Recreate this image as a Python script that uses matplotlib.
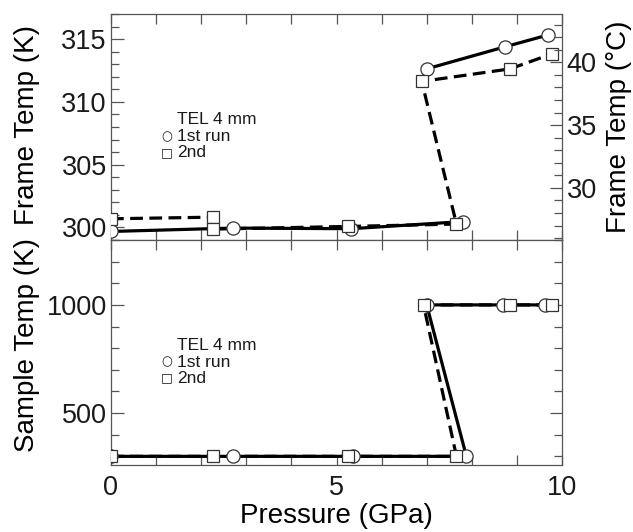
import numpy as np
import matplotlib
matplotlib.use("Agg")
import matplotlib.pyplot as plt
from matplotlib.ticker import MultipleLocator

# frame temperature (K) vs pressure (GPa); nan = gap in the 1st run line
p_frame1 = [0, 2.70, 5.33, 7.81, np.nan, 7.00, 8.74, 9.68]
t_frame1 = [299.68, 299.95, 299.90, 300.47, np.nan, 312.63, 314.39, 315.32]
p_frame2 = [0, 2.27, 2.27, 5.26, 7.66, 6.89, 8.85, 9.77]
t_frame2 = [300.69, 300.82, 299.87, 300.08, 300.27, 311.63, 312.63, 313.82]

# sample temperature (K)
p_sample1 = [0, 2.70, 5.37, 7.88, 7.00, 8.69, 9.62]
t_sample1 = [300, 300, 300, 300, 1000, 1000, 1000]
p_sample2 = [0, 2.27, 5.26, 7.66, 6.93, 8.85, 9.77]
t_sample2 = [300, 300, 300, 300, 1000, 1000, 1000]

legend_title = "TEL 4 mm"
legend_labels = ["1st run", "2nd"]

plt.rcParams['font.family'] = ['Liberation Sans', 'DejaVu Sans']
plt.rcParams['text.color'] = '#1a1a1a'

SPINE = '#555555'
LW = 2.3
TICK_FS = 19.5
LABEL_FS = 20

fig = plt.figure(figsize=(6.33, 5.32), dpi=100)
W, H = 633, 532
x0, x1 = 111, 562
ax_top = fig.add_axes([x0 / W, 1 - 240 / H, (x1 - x0) / W, 226 / H])
ax_bot = fig.add_axes([x0 / W, 1 - 465 / H, (x1 - x0) / W, 225 / H])


def style(ax):
    for s in ax.spines.values():
        s.set_color(SPINE)
        s.set_linewidth(0.9)
    ax.tick_params(which='both', direction='in', top=True, right=True,
                   color=SPINE, width=0.9, labelsize=TICK_FS,
                   labelcolor='#1a1a1a')
    ax.tick_params(which='major', length=9)
    ax.tick_params(which='minor', length=6)
    ax.tick_params(axis='x', which='both', length=7.5, pad=7)
    ax.tick_params(axis='y', pad=3)
    ax.set_xlim(0, 10)
    ax.xaxis.set_major_locator(MultipleLocator(5))
    ax.xaxis.set_minor_locator(MultipleLocator(1))


def draw(ax, pa, ta, pb, tb):
    ax.plot(pa, ta, '-', color='black', lw=LW, zorder=2)
    ax.plot(pb, tb, '--', color='black', lw=LW, dashes=(4, 2), zorder=2)
    ax.plot(pa, ta, 'o', ms=9.5, mfc='white', mec='#333333', mew=0.9,
            zorder=3)
    ax.plot(pb, tb, 's', ms=9, mfc='white', mec='#333333', mew=0.9,
            zorder=4)
    ax.text(0.146, 0.533, legend_title, transform=ax.transAxes,
            fontsize=12.5, va='center', ha='left')
    ax.text(0.1235, 0.457, "○", transform=ax.transAxes, fontsize=9,
            va='center', ha='center', family='DejaVu Sans')
    ax.text(0.146, 0.457, legend_labels[0], transform=ax.transAxes,
            fontsize=12.5, va='center', ha='left')
    ax.text(0.1235, 0.386, "□", transform=ax.transAxes, fontsize=9,
            va='center', ha='center', family='DejaVu Sans')
    ax.text(0.146, 0.386, legend_labels[1], transform=ax.transAxes,
            fontsize=12.5, va='center', ha='left')


# top panel: frame temperature
style(ax_top)
draw(ax_top, p_frame1, t_frame1, p_frame2, t_frame2)
ax_top.set_ylim(299.0, 317.0)
ax_top.yaxis.set_major_locator(MultipleLocator(5))
ax_top.yaxis.set_minor_locator(MultipleLocator(1))
ax_top.tick_params(axis='x', labelbottom=False)
ax_top.tick_params(axis='y', right=False)
ax_top.set_ylabel("Frame Temp (K)", fontsize=LABEL_FS)
ax_top.yaxis.set_label_coords(-0.158, 0.51)

ax_c = ax_top.twinx()
lo, hi = ax_top.get_ylim()
ax_c.set_ylim(lo - 273.15, hi - 273.15)
ax_c.yaxis.set_major_locator(MultipleLocator(5))
ax_c.yaxis.set_minor_locator(MultipleLocator(1))
for s in ax_c.spines.values():
    s.set_visible(False)
ax_c.tick_params(which='both', direction='in', color=SPINE, width=0.9,
                 labelsize=TICK_FS, pad=3.5, labelcolor='#1a1a1a')
ax_c.tick_params(which='major', length=9)
ax_c.tick_params(which='minor', length=6)
ax_c.set_ylabel("Frame Temp (°C)", fontsize=LABEL_FS, rotation=90)
ax_c.yaxis.set_label_coords(1.098, 0.5)

# bottom panel: sample temperature
style(ax_bot)
draw(ax_bot, p_sample1, t_sample1, p_sample2, t_sample2)
ax_bot.set_ylim(260, 1300)
ax_bot.yaxis.set_major_locator(MultipleLocator(500))
ax_bot.yaxis.set_minor_locator(MultipleLocator(100))
ax_bot.set_ylabel("Sample Temp (K)", fontsize=LABEL_FS)
ax_bot.yaxis.set_label_coords(-0.158, 0.535)
ax_bot.set_xlabel("Pressure (GPa)", fontsize=LABEL_FS)
ax_bot.xaxis.set_label_coords(0.5, -0.17)

fig.savefig("out.png", dpi=100)
